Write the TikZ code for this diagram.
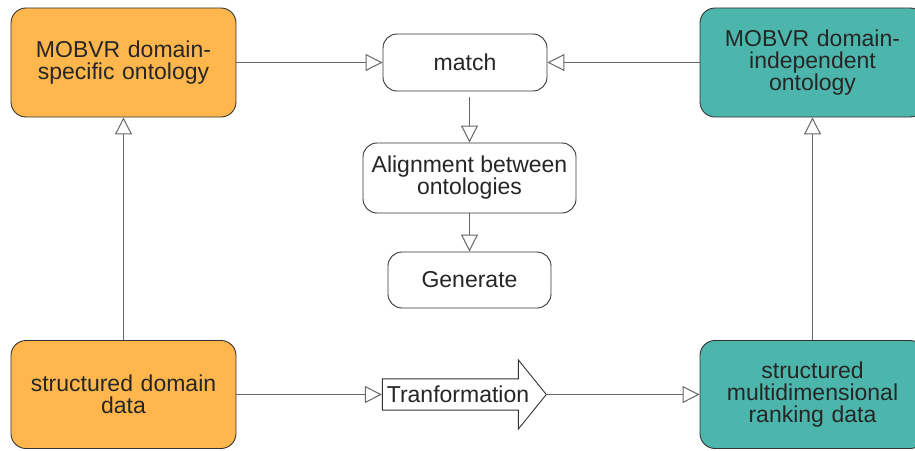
\documentclass[tikz,border=0pt]{standalone}
\usepackage{fontspec}
\setmainfont{Liberation Sans}
\usepackage{xcolor}
\usepackage{tikz}
\usetikzlibrary{shapes,arrows,arrows.meta}
\usetikzlibrary{positioning}
\definecolor{ontoorange}{HTML}{FFB74D}
\definecolor{ontoteal}{HTML}{4DB6AC}
\tikzstyle{ontology} = [rectangle, draw=black!80, line width=0.9pt, rounded corners=15pt,
    text width=215pt, align=center, minimum width=225pt, minimum height=109pt, inner sep=3pt]
\tikzstyle{process} = [rectangle, draw=black!80, fill=white, line width=0.9pt, rounded corners=14pt,
    align=center, inner sep=0pt]
\tikzstyle{line} = [draw, black!60, line width=1pt, -{Triangle[open, length=17pt, width=17pt]}]

\begin{document}
\begin{tikzpicture}[node distance = 340pt, auto, font=\fontsize{23}{22}\selectfont, text=black!85]
    \useasboundingbox (-123.5pt,-387.5pt) rectangle (791.5pt,62.5pt);
    % Place nodes
    \node [ontology, fill=ontoorange] (dso) {MOBVR domain-\\specific ontology};
    \node [process, right of=dso, node distance=341.5pt, minimum width=164pt, minimum height=57pt] (match) {match};
    \node [ontology, fill=ontoteal, right of=match, node distance=347.5pt] (dio) {MOBVR domain-\\independent\\ontology};
    \node [process, below of=match, node distance=115.5pt, xshift=4.5pt, minimum width=213pt, minimum height=70pt] (align) {Alignment between\\ontologies};
    \node [process, below of=align, node distance=102pt, minimum width=163pt, minimum height=56pt] (gen) {Generate};
    \node [ontology, fill=ontoorange, below of=dso, node distance=332pt, minimum height=108pt] (sdd) {structured domain\\data};
    \node [ontology, fill=ontoteal, below of=dio, node distance=332pt, minimum height=108pt] (smrd) {structured\\multidimensional\\ranking data};
    \node [single arrow, draw=black!80, fill=white, line width=0.9pt, inner sep=1pt,
        minimum height=164pt, minimum width=69pt, single arrow head extend=12pt,
        single arrow tip angle=102, right of=sdd, node distance=334.5pt] (trans) {Tranformation};
    % Draw edges
    \path [line] (dso) -- (match);
    \path [line] (dio) -- (match);
    \path [line, shorten <=6pt] (match.south -| align.north) -- (align);
    \path [line] (align) -- (gen);
    \path [line] (sdd) -- (dso);
    \path [line] (smrd) -- (dio);
    \path [line] (sdd) -- (trans.tail);
    \path [line] (trans.tip) -- (smrd);
\end{tikzpicture}
\end{document}
